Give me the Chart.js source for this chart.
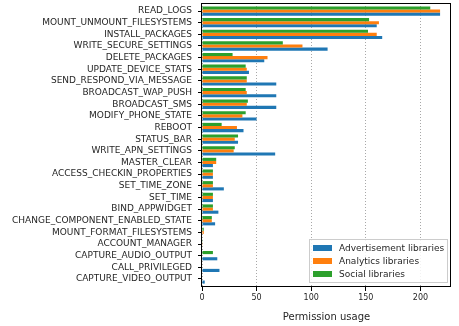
<!DOCTYPE html>
<html>
<head>
<meta charset="utf-8">
<script src="https://cdn.jsdelivr.net/npm/chart.js@4"></script>
<style>
  html, body { margin: 0; padding: 0; background: #fff; }
  #wrap { width: 459px; height: 326px; }
</style>
</head>
<body>
<div id="wrap"><canvas id="permChart" width="459" height="326"></canvas></div>
<script>
// permission names, top to bottom
var permissions = ['READ_LOGS', 'MOUNT_UNMOUNT_FILESYSTEMS', 'INSTALL_PACKAGES', 'WRITE_SECURE_SETTINGS',
    'DELETE_PACKAGES', 'UPDATE_DEVICE_STATS', 'SEND_RESPOND_VIA_MESSAGE', 'BROADCAST_WAP_PUSH',
    'BROADCAST_SMS', 'MODIFY_PHONE_STATE', 'REBOOT', 'STATUS_BAR', 'WRITE_APN_SETTINGS', 'MASTER_CLEAR',
    'ACCESS_CHECKIN_PROPERTIES', 'SET_TIME_ZONE', 'SET_TIME', 'BIND_APPWIDGET',
    'CHANGE_COMPONENT_ENABLED_STATE', 'MOUNT_FORMAT_FILESYSTEMS', 'ACCOUNT_MANAGER',
    'CAPTURE_AUDIO_OUTPUT', 'CALL_PRIVILEGED', 'CAPTURE_VIDEO_OUTPUT'];

var advertisement = [218, 160, 165, 115, 57, 43, 68, 68, 68, 50, 38, 33, 67, 10, 10, 20, 10, 15, 12, 0, 0, 14, 16, 2.5];
var analytics     = [218, 162, 160, 92, 60, 41, 41, 41, 41, 37, 32, 30, 29, 13, 10, 10, 10, 10, 9, 1.6, 0.3, 0, 0, 0];
var social        = [209, 153, 152, 74, 28, 40, 41, 40, 42, 40, 18, 33, 30, 13, 10, 10, 10, 10, 9, 1.6, 0.6, 10, 0, 0];

var xTicks = [0, 50, 100, 150, 200];

var FONT = 'DejaVu Sans';

// bars sit on a numeric y axis so the matplotlib-style margins can be kept
function points(values) {
    return values.map(function (v, i) { return { x: v, y: i }; });
}

// frame around plot + legend inside the axes
var framePlugin = {
    id: 'frame',
    afterDraw: function (chart) {
        var c = chart.ctx, a = chart.chartArea;
        c.save();
        c.strokeStyle = '#000';
        c.lineWidth = 1;
        c.strokeRect(Math.round(a.left) - 0.5, Math.round(a.top) + 0.5,
            Math.round(a.right - a.left), Math.round(a.bottom - a.top) - 1);

        // legend box
        var bx = 309, by = 239, bw = 138, bh = 43;
        c.fillStyle = 'rgba(255,255,255,0.85)';
        c.fillRect(bx, by, bw, bh);
        c.strokeStyle = '#cccccc';
        c.strokeRect(bx + 0.5, by + 0.5, bw, bh);
        var items = chart.data.datasets.slice().reverse();
        c.font = '9px "' + FONT + '"';
        c.textBaseline = 'middle';
        items.forEach(function (ds, i) {
            var cy = 248 + i * 13;
            c.fillStyle = ds.backgroundColor;
            c.fillRect(313, cy - 3, 19, 6);
            c.fillStyle = '#262626';
            c.fillText(ds.label, 339, cy + 0.5);
        });
        c.restore();
    }
};

var ctx = document.getElementById('permChart').getContext('2d');
var chart = new Chart(ctx, {
    type: 'bar',
    data: {
        datasets: [
            { label: 'Social libraries', data: points(social), backgroundColor: '#2ca02c' },
            { label: 'Analytics libraries', data: points(analytics), backgroundColor: '#ff7f0e' },
            { label: 'Advertisement libraries', data: points(advertisement), backgroundColor: '#1f77b4' }
        ]
    },
    options: {
        indexAxis: 'y',
        responsive: false,
        animation: false,
        devicePixelRatio: 1,
        layout: { autoPadding: false, padding: { left: 0, right: 8, top: 3, bottom: 0 } },
        datasets: {
            bar: { categoryPercentage: 0.8, barPercentage: 1.0, borderWidth: 0 }
        },
        plugins: {
            legend: { display: false },
            tooltip: { enabled: false }
        },
        scales: {
            x: {
                type: 'linear',
                min: 0,
                max: 228,
                afterFit: function (s) { s.height = 39; },
                afterBuildTicks: function (s) {
                    s.ticks = xTicks.map(function (v) { return { value: v }; });
                },
                grid: {
                    color: '#a8a8a8',
                    lineWidth: 1,
                    tickColor: '#000',
                    tickLength: 4,
                    tickBorderDash: []
                },
                border: { display: false, dash: [1, 2] },
                ticks: {
                    color: '#262626',
                    font: { family: FONT, size: 8 },
                    padding: 2,
                    maxRotation: 0
                },
                title: {
                    display: true,
                    text: 'Permission usage',
                    color: '#262626',
                    font: { family: FONT, size: 10 },
                    padding: { top: 0, bottom: 3 }
                }
            },
            y: {
                type: 'linear',
                reverse: true,
                offset: false,
                min: -0.69,
                max: permissions.length - 1 + 0.69,
                afterFit: function (s) {
                    s.width = 202;
                    s.paddingTop = 0;
                    s.paddingBottom = 0;
                },
                afterBuildTicks: function (s) {
                    s.ticks = permissions.map(function (p, i) { return { value: i }; });
                },
                grid: {
                    offset: false,
                    drawOnChartArea: false,
                    tickColor: '#000',
                    tickLength: 4
                },
                border: { display: false },
                ticks: {
                    color: '#262626',
                    font: { family: FONT, size: 9 },
                    padding: 6,
                    autoSkip: false,
                    callback: function (v) { return permissions[v]; }
                }
            }
        }
    },
    plugins: [framePlugin]
});
</script>
</body>
</html>
